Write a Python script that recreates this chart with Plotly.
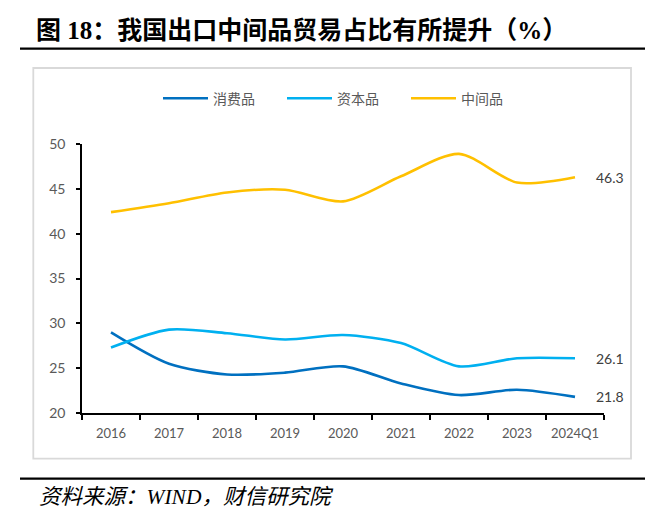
import plotly.graph_objects as go

categories = ["2016", "2017", "2018", "2019", "2020", "2021", "2022", "2023", "2024Q1"]
consumer = [29.0, 25.5, 24.3, 24.5, 25.2, 23.3, 22.0, 22.6, 21.8]
capital = [27.3, 29.3, 28.9, 28.2, 28.7, 27.8, 25.2, 26.1, 26.1]
intermediate = [42.4, 43.4, 44.6, 44.9, 43.6, 46.4, 48.9, 45.7, 46.3]
series_names = ["消费品", "资本品", "中间品"]
colors = ["#0070C0", "#00B0F0", "#FFC000"]
end_labels = ["21.8", "26.1", "46.3"]

W, H = 666, 532
L, R = 82, 604
T, B = 144.3, 413.3


def px(x):
    return (x - L) / (R - L)


def py(y):
    return (B - y) / (B - T)


fig = go.Figure()
for name, vals, col in zip(series_names, [consumer, capital, intermediate], colors):
    fig.add_trace(go.Scatter(
        x=categories, y=vals, name=name, mode="lines",
        line=dict(color=col, width=2.6, shape="spline", smoothing=0.8),
    ))

annotations = []
for vals, lab in zip([consumer, capital, intermediate], end_labels):
    annotations.append(dict(
        x=categories[-1], y=vals[-1], xref="x", yref="y", text=lab,
        showarrow=False, xanchor="left", yanchor="middle", xshift=19,
        font=dict(family="Lato, Liberation Sans, sans-serif", size=14, color="#404040"),
    ))

annotations.append(dict(
    x=px(37), y=py(497), xref="paper", yref="paper",
    text="资料来源：WIND，财信研究院", showarrow=False,
    xanchor="left", yanchor="middle",
    font=dict(family="Liberation Serif, Noto Sans CJK SC, serif", size=21.5, color="#000000", style="italic"),
))

shapes = [
    dict(type="line", xref="paper", yref="paper", x0=px(20), x1=px(645), y0=py(49), y1=py(49),
         line=dict(color="#000000", width=2.2)),
    dict(type="line", xref="paper", yref="paper", x0=px(20), x1=px(645), y0=py(479), y1=py(479),
         line=dict(color="#000000", width=2.2)),
    dict(type="rect", xref="paper", yref="paper", x0=px(33.3), x1=px(631), y0=py(459), y1=py(68.3),
         line=dict(color="#D9D9D9", width=1.8), layer="below"),
]

fig.update_layout(
    width=W, height=H,
    margin=dict(l=L, r=W - R, t=T, b=H - B, pad=0),
    paper_bgcolor="white", plot_bgcolor="white",
    title=dict(
        text="<b>图 18：我国出口中间品贸易占比有所提升（%）</b>",
        x=36 / W, xanchor="left", y=1 - 30 / H, yanchor="middle",
        font=dict(family="Liberation Serif, Noto Sans CJK SC, serif", size=25, color="#000000"),
    ),
    legend=dict(
        orientation="h", x=px(344), xanchor="center", y=py(99), yanchor="middle",
        font=dict(family="Noto Sans CJK SC, sans-serif", size=14, color="#595959"),
        itemwidth=45, entrywidth=64, entrywidthmode="pixels",
        bgcolor="rgba(0,0,0,0)",
    ),
    xaxis=dict(
        type="category", range=[-0.5, len(categories) - 0.5],
        showline=True, linecolor="#000000", linewidth=1.5,
        ticks="outside", tickson="boundaries", ticklen=5, tickcolor="#000000", tickwidth=1.5,
        showgrid=False, zeroline=False, ticklabelstandoff=8,
        tickfont=dict(family="Lato, Liberation Sans, sans-serif", size=13, color="#595959"),
    ),
    yaxis=dict(
        range=[20, 50], dtick=5, showline=True, linecolor="#000000", linewidth=1.5,
        ticks="outside", ticklen=4, tickcolor="#000000", tickwidth=1.5,
        showgrid=False, zeroline=False, ticklabelstandoff=8,
        tickfont=dict(family="Lato, Liberation Sans, sans-serif", size=14, color="#595959"),
    ),
    annotations=annotations,
    shapes=shapes,
    showlegend=True,
)

fig.write_html("out.html")
